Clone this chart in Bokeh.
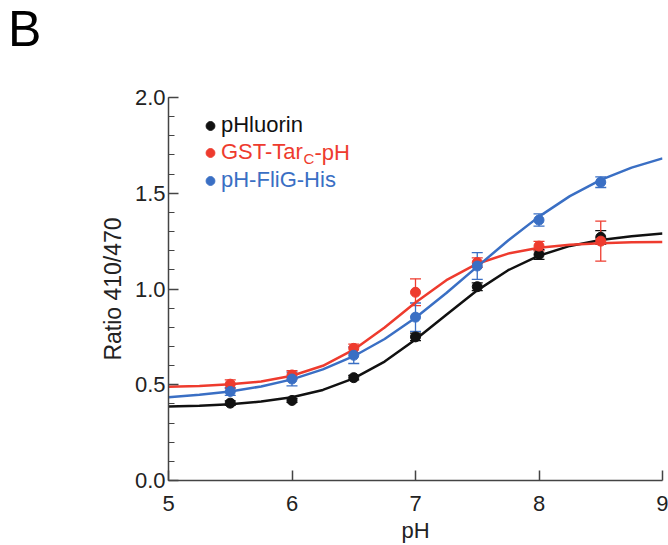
from bokeh.plotting import figure
from bokeh.layouts import column
from bokeh.models import (ColumnDataSource, Whisker, TeeHead, Legend, LegendItem, Label,
                          FixedTicker, PrintfTickFormatter, Range1d, Div)
from bokeh.embed import file_html
from bokeh.resources import INLINE

# ---- data ----
ph_points = [5.5, 6.0, 6.5, 7.0, 7.5, 8.0, 8.5]

phluorin = [0.404, 0.418, 0.537, 0.750, 1.012, 1.180, 1.270]
phluorin_err = [0.012, 0.010, 0.012, 0.020, 0.020, 0.025, 0.035]

gst_tar = [0.503, 0.551, 0.690, 0.983, 1.138, 1.224, 1.250]
gst_tar_err = [0.022, 0.022, 0.022, 0.070, 0.025, 0.025, 0.104]

flig_his = [0.465, 0.530, 0.654, 0.853, 1.120, 1.360, 1.558]
flig_his_err = [0.020, 0.036, 0.043, 0.074, 0.070, 0.032, 0.028]

# fitted curves, read at 0.25 pH steps
ph_curve = [5.0, 5.25, 5.5, 5.75, 6.0, 6.25, 6.5, 6.75, 7.0, 7.25, 7.5, 7.75, 8.0, 8.25, 8.5, 8.75, 9.0]
phluorin_fit = [0.386, 0.390, 0.398, 0.412, 0.435, 0.473, 0.533, 0.621, 0.736, 0.866, 0.993, 1.098, 1.174, 1.225, 1.256, 1.275, 1.290]
gst_tar_fit = [0.489, 0.493, 0.502, 0.517, 0.547, 0.599, 0.683, 0.799, 0.930, 1.046, 1.132, 1.185, 1.215, 1.231, 1.239, 1.244, 1.246]
flig_his_fit = [0.435, 0.448, 0.465, 0.491, 0.528, 0.580, 0.649, 0.739, 0.850, 0.979, 1.117, 1.253, 1.378, 1.485, 1.570, 1.634, 1.682]

x_ticks = [5, 6, 7, 8, 9]
y_ticks = [0.0, 0.5, 1.0, 1.5, 2.0]
y_minor = [i / 10 for i in range(0, 21)]

names = ["pHluorin", "GST-Tar", "pH-FliG-His"]
colors = ["#111111", "#ee3b2e", "#3a6fc4"]

FONT = "Liberation Sans"

# panel letter
head = Div(text="B", width=668, height=62, margin=0,
           styles={"font-family": "'Liberation Sans', Arial, sans-serif", "font-size": "50px",
                   "line-height": "59px", "text-indent": "8px", "color": "#000000"})

p = figure(width=668, height=483, x_range=Range1d(5, 9), y_range=Range1d(0, 2),
           output_backend="svg", toolbar_location=None, margin=0,
           min_border_left=168, min_border_right=6, min_border_top=35, min_border_bottom=62)
p.xgrid.visible = False
p.ygrid.visible = False
p.outline_line_color = None
p.background_fill_color = "white"

series = [(phluorin, phluorin_err, phluorin_fit),
          (gst_tar, gst_tar_err, gst_tar_fit),
          (flig_his, flig_his_err, flig_his_fit)]

dots = []
for (vals, errs, fit), col in zip(series, colors):
    p.line(ph_curve, fit, line_color=col, line_width=2.5)
    src = ColumnDataSource(dict(x=ph_points, y=vals,
                                lo=[v - e for v, e in zip(vals, errs)],
                                hi=[v + e for v, e in zip(vals, errs)]))
    w = Whisker(base="x", lower="lo", upper="hi", source=src, line_color=col, line_width=1.3,
                upper_head=TeeHead(size=11, line_color=col, line_width=1.3),
                lower_head=TeeHead(size=11, line_color=col, line_width=1.3))
    p.add_layout(w)
    r = p.scatter("x", "y", source=src, size=10, color=col, marker="circle")
    dots.append(r)

# axes
for ax in (p.xaxis[0], p.yaxis[0]):
    ax.axis_line_color = "#444444"
    ax.axis_line_width = 1.5
    ax.major_tick_line_color = "#444444"
    ax.major_tick_line_width = 1.5
    ax.major_tick_out = 0
    ax.major_tick_in = 10
    ax.major_label_text_font = FONT
    ax.major_label_text_font_size = "22px"
    ax.major_label_text_color = "#222222"
    ax.axis_label_text_font = FONT
    ax.axis_label_text_font_size = "22px"
    ax.axis_label_text_font_style = "normal"
    ax.axis_label_text_color = "#222222"

p.xaxis.ticker = FixedTicker(ticks=x_ticks)
p.xaxis.minor_tick_line_color = None
p.xaxis.major_label_standoff = 15
p.xaxis.axis_label = "pH"
p.xaxis.axis_label_standoff = 4

p.yaxis.ticker = FixedTicker(ticks=y_ticks, minor_ticks=y_minor)
p.yaxis.formatter = PrintfTickFormatter(format="%.1f")
p.yaxis.minor_tick_line_color = "#444444"
p.yaxis.minor_tick_line_width = 1.2
p.yaxis.minor_tick_in = 6
p.yaxis.minor_tick_out = 0
p.yaxis.major_label_standoff = 3
p.yaxis.axis_label = "Ratio 410/470"
p.yaxis.axis_label_text_font_size = "23px"
p.yaxis.axis_label_standoff = 6

# legend: one single-item legend per series so each label gets its own colour
row_centers = [355, 328, 300]  # screen px above the frame bottom
for n, r, col, c in zip(names, dots, colors, row_centers):
    lg = Legend(items=[LegendItem(label=n, renderers=[r])],
                location=(31, c - 13.5), orientation="vertical",
                border_line_color=None, background_fill_alpha=0,
                padding=0, margin=0, spacing=0,
                glyph_width=22, glyph_height=27, label_height=27, label_standoff=0,
                label_text_font=FONT, label_text_font_size="22px", label_text_color=col)
    p.add_layout(lg)

# subscript part of "GST-Tar_C-pH"
p.add_layout(Label(x=135, y=row_centers[1] - 6, x_units="screen", y_units="screen", text="C",
                   text_font=FONT, text_font_size="15px", text_color=colors[1],
                   text_baseline="middle"))
p.add_layout(Label(x=146, y=row_centers[1], x_units="screen", y_units="screen", text="-pH",
                   text_font=FONT, text_font_size="22px", text_color=colors[1],
                   text_baseline="middle"))

layout = column(head, p, spacing=0)
open("out.html", "w").write(file_html(layout, INLINE))
